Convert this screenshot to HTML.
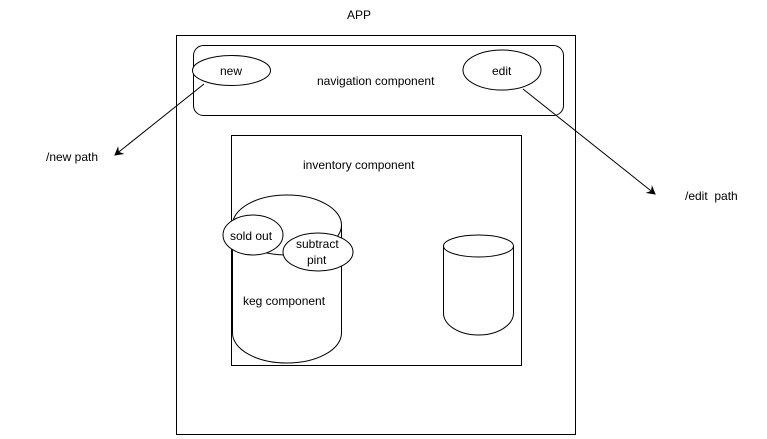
<!DOCTYPE html>
<html><head><style>
html,body{margin:0;padding:0;background:#fff;}
svg{display:block;}
text{font-family:"Liberation Sans",sans-serif;font-size:12px;fill:#000;}
</style></head><body>
<svg width="767" height="439" viewBox="0 0 767 439" xmlns="http://www.w3.org/2000/svg">
<defs>
<marker id="ah" markerWidth="10" markerHeight="10" refX="8" refY="5" orient="auto" markerUnits="userSpaceOnUse">
<path d="M0,0 L9,5 L0,10 L3,5 Z" fill="#000"/>
</marker>
</defs>
<g fill="#fff" stroke="#000" stroke-width="1">
<text x="347" y="19" stroke="none">APP</text>
<rect x="176.5" y="35.5" width="399" height="399"/>
<rect x="193.5" y="45.5" width="370" height="70" rx="10"/>
<ellipse cx="231.5" cy="70.5" rx="39" ry="15"/>
<ellipse cx="502" cy="70" rx="39" ry="20"/>
<text x="317" y="85" stroke="none">navigation component</text>
<text x="220" y="75" stroke="none">new</text>
<text x="492" y="75" stroke="none">edit</text>
<line x1="204" y1="84" x2="115" y2="155" marker-end="url(#ah)"/>
<line x1="523" y1="89" x2="655" y2="194" marker-end="url(#ah)"/>
<text x="46" y="161" stroke="none">/new path</text>
<text x="685" y="200" stroke="none">/edit&#160; path</text>
<rect x="231.5" y="135.5" width="290" height="230"/>
<text x="303" y="169" stroke="none">inventory component</text>
<path d="M232.5,225 A54.5,30 0 0 1 341.5,225 L341.5,333 A54.5,30 0 0 1 232.5,333 Z"/>
<path d="M232.5,225 A54.5,30 0 0 0 341.5,225" fill="none"/>
<rect x="232" y="366" width="112" height="2" fill="#fff" stroke="none"/>
<line x1="231.5" y1="365.5" x2="521.5" y2="365.5"/>
<ellipse cx="253" cy="235" rx="30" ry="20"/>
<ellipse cx="318" cy="252" rx="35" ry="19"/>
<text x="230" y="240" stroke="none">sold out</text>
<text x="296" y="248" stroke="none">subtract</text>
<text x="307" y="264" stroke="none">pint</text>
<text x="243" y="305" stroke="none">keg component</text>
<path d="M443.5,246 A35,11 0 0 1 513.5,246 L513.5,313 A35,22 0 0 1 443.5,313 Z"/>
<path d="M443.5,246 A35,11 0 0 0 513.5,246" fill="none"/>
</g>
</svg>
</body></html>
